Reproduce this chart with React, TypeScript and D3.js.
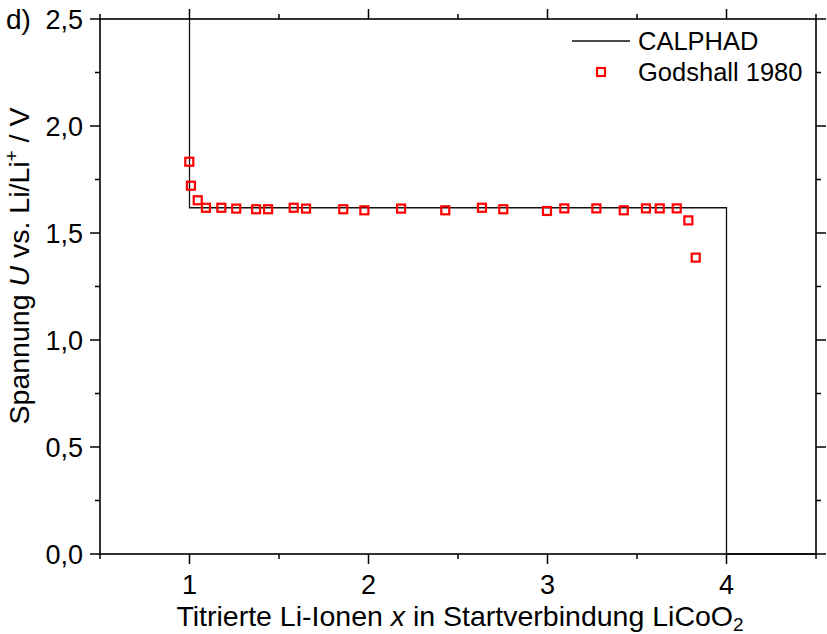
import { scaleLinear, line } from "d3";

const xTicks = [1, 2, 3, 4];
const xMinor = [0.5, 1.5, 2.5, 3.5, 4.5];
const yTicks = [0, 0.5, 1.0, 1.5, 2.0, 2.5];
const yMinor = [0.25, 0.75, 1.25, 1.75, 2.25];

// CALPHAD step curve
const calphadX = [1, 1, 4, 4, 4.5];
const calphadY = [2.5, 1.618, 1.618, 0, 0];

// Godshall 1980 measurements
const godX = [0.999, 1.008, 1.046, 1.092, 1.178, 1.261, 1.372, 1.439, 1.582, 1.651, 1.859, 1.977, 2.182, 2.429, 2.634, 2.753, 2.997, 3.094, 3.273, 3.426, 3.55, 3.627, 3.722, 3.787, 3.828];
const godY = [1.833, 1.721, 1.653, 1.618, 1.618, 1.614, 1.611, 1.611, 1.618, 1.614, 1.611, 1.606, 1.614, 1.606, 1.618, 1.611, 1.603, 1.615, 1.615, 1.606, 1.615, 1.615, 1.615, 1.559, 1.385];

const fmt = (v: number) => v.toFixed(1).replace(".", ",");

export default function App() {
  const width = 827;
  const height = 634;
  const left = 100, right = 816, top = 19, bottom = 554;
  const x = scaleLinear().domain([0.5, 4.5]).range([left, right]);
  const y = scaleLinear().domain([0, 2.5]).range([bottom, top]);
  const font = "'Liberation Sans', Arial, sans-serif";
  const calphad = calphadX.map((v, i) => [v, calphadY[i]] as [number, number]);
  const path = line<[number, number]>().x((d) => x(d[0])).y((d) => y(d[1]))(calphad) ?? "";
  const major = 10, minor = 5;

  return (
    <svg width={width} height={height} style={{ position: "absolute", left: 0, top: 0, background: "#fff" }} fontFamily={font}>
      <path d={path} fill="none" stroke="#111" strokeWidth={1.3} />

      {/* frame */}
      <rect x={left} y={top} width={right - left} height={bottom - top} fill="none" stroke="#000" strokeWidth={1.6} />

      {/* x ticks bottom & top */}
      {xTicks.map((t) => (
        <g key={`xt${t}`}>
          <line x1={x(t)} x2={x(t)} y1={bottom} y2={bottom + major} stroke="#000" strokeWidth={1.5} />
          <line x1={x(t)} x2={x(t)} y1={top} y2={top - major} stroke="#000" strokeWidth={1.5} />
          <text x={x(t)} y={594} textAnchor="middle" fontSize={27}>{t}</text>
        </g>
      ))}
      {xMinor.map((t) => (
        <g key={`xm${t}`}>
          <line x1={x(t)} x2={x(t)} y1={bottom} y2={bottom + minor} stroke="#000" strokeWidth={1.5} />
          <line x1={x(t)} x2={x(t)} y1={top} y2={top - minor} stroke="#000" strokeWidth={1.5} />
        </g>
      ))}

      {/* y ticks left & right */}
      {yTicks.map((t) => (
        <g key={`yt${t}`}>
          <line x1={left} x2={left - major} y1={y(t)} y2={y(t)} stroke="#000" strokeWidth={1.5} />
          <line x1={right} x2={right + major} y1={y(t)} y2={y(t)} stroke="#000" strokeWidth={1.5} />
          <text x={83} y={y(t) + 9.5} textAnchor="end" fontSize={27}>{fmt(t)}</text>
        </g>
      ))}
      {yMinor.map((t) => (
        <g key={`ym${t}`}>
          <line x1={left} x2={left - minor} y1={y(t)} y2={y(t)} stroke="#000" strokeWidth={1.5} />
          <line x1={right} x2={right + minor} y1={y(t)} y2={y(t)} stroke="#000" strokeWidth={1.5} />
        </g>
      ))}

      {/* data markers */}
      {godX.map((v, i) => (
        <rect key={`g${i}`} x={x(v) - 4} y={y(godY[i]) - 4} width={8} height={8} fill="none" stroke="#ff0000" strokeWidth={2.2} />
      ))}

      {/* legend */}
      <line x1={572} x2={630} y1={41} y2={41} stroke="#111" strokeWidth={1.3} />
      <text x={638} y={50} fontSize={25.5}>CALPHAD</text>
      <rect x={597} y={68} width={8} height={8} fill="none" stroke="#ff0000" strokeWidth={2.2} />
      <text x={638} y={81} fontSize={25.5}>Godshall 1980</text>

      {/* panel label */}
      <text x={6} y={29} fontSize={28}>d)</text>

      {/* axis titles */}
      <text x={460} y={626} textAnchor="middle" fontSize={28.5}>
        Titrierte Li-Ionen <tspan fontStyle="italic">x</tspan> in Startverbindung LiCoO
        <tspan fontSize={19} dy={5}>2</tspan>
      </text>
      <text transform={`translate(29, 266) rotate(-90)`} textAnchor="middle" fontSize={28.5}>
        Spannung <tspan fontStyle="italic">U</tspan> vs. Li/Li
        <tspan fontSize={19} dy={-11}>+</tspan>
        <tspan dy={11}> / V</tspan>
      </text>
    </svg>
  );
}
